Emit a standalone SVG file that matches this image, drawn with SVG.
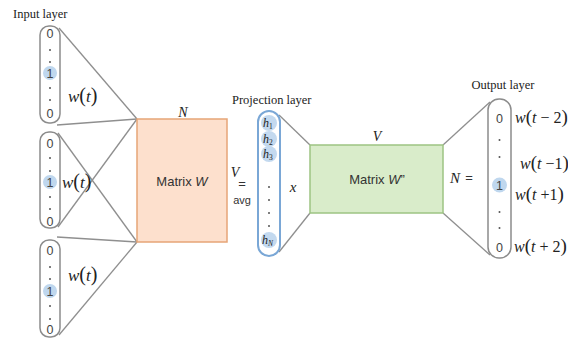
<svg xmlns="http://www.w3.org/2000/svg" width="568" height="341" viewBox="0 0 568 341">
  <style>
    .serif { font-family: "Liberation Serif", "Times New Roman", serif; fill: #222; }
    .math { font-family: "Liberation Serif", "Times New Roman", serif; font-style: italic; fill: #222; }
    .sans { font-family: "Liberation Sans", Arial, sans-serif; fill: #333; }
    .vec { fill: #fff; stroke: #8c8c8c; stroke-width: 1.5; }
    .cell { font-family: "Liberation Sans", Arial, sans-serif; font-size: 12.5px; fill: #444; text-anchor: middle; }
    .hot { fill: #bfd7ee; }
    .dot { fill: #555; }
    .link { stroke: #8f8f8f; stroke-width: 1.3; fill: none; }
    .up { font-style: normal; }
  </style>

  <!-- connectors -->
  <g id="connectors">
    <line class="link" x1="59" y1="28" x2="137" y2="119"/>
    <line class="link" x1="57" y1="125" x2="137" y2="119"/>
    <line class="link" x1="58" y1="133" x2="137" y2="242"/>
    <line class="link" x1="58" y1="227" x2="137" y2="119"/>
    <line class="link" x1="57" y1="237" x2="137" y2="242"/>
    <line class="link" x1="59" y1="335" x2="137" y2="242"/>
    <line class="link" x1="279" y1="115" x2="310" y2="145"/>
    <line class="link" x1="279" y1="252" x2="310" y2="213"/>
    <line class="link" x1="443" y1="145" x2="490" y2="102"/>
    <line class="link" x1="443" y1="213" x2="490" y2="255"/>
  </g>

  <!-- input layer -->
  <text class="serif" x="13" y="18" font-size="12.5">Input layer</text>

  <g id="input1">
    <rect class="vec" x="40" y="26" width="20" height="97" rx="9"/>
    <circle class="hot" cx="50" cy="73" r="7"/>
    <text class="cell" x="50" y="38">0</text>
    <circle class="dot" cx="50" cy="50" r="1"/>
    <circle class="dot" cx="50" cy="62" r="1"/>
    <text class="cell" x="50" y="77.5">1</text>
    <circle class="dot" cx="50" cy="88" r="1"/>
    <circle class="dot" cx="50" cy="100" r="1"/>
    <text class="cell" x="50" y="118">0</text>
    <text class="math" x="68" y="102" font-size="17">w<tspan class="up" font-size="20">(</tspan>t<tspan class="up" font-size="20">)</tspan></text>
  </g>

  <g id="input2">
    <rect class="vec" x="40" y="132" width="20" height="96" rx="9"/>
    <circle class="hot" cx="50" cy="182" r="7"/>
    <text class="cell" x="50" y="148">0</text>
    <circle class="dot" cx="50" cy="158" r="1"/>
    <circle class="dot" cx="50" cy="171" r="1"/>
    <text class="cell" x="50" y="186.5">1</text>
    <circle class="dot" cx="50" cy="197" r="1"/>
    <circle class="dot" cx="50" cy="209" r="1"/>
    <text class="cell" x="50" y="226">0</text>
    <text class="math" x="62" y="188" font-size="17">w<tspan class="up" font-size="20">(</tspan>t<tspan class="up" font-size="20">)</tspan></text>
  </g>

  <g id="input3">
    <rect class="vec" x="40" y="240" width="20" height="97" rx="9"/>
    <circle class="hot" cx="50" cy="291" r="7"/>
    <text class="cell" x="50" y="255">0</text>
    <circle class="dot" cx="50" cy="267" r="1"/>
    <circle class="dot" cx="50" cy="279" r="1"/>
    <text class="cell" x="50" y="295.5">1</text>
    <circle class="dot" cx="50" cy="306" r="1"/>
    <circle class="dot" cx="50" cy="319" r="1"/>
    <text class="cell" x="50" y="334">0</text>
    <text class="math" x="68" y="281" font-size="17">w<tspan class="up" font-size="20">(</tspan>t<tspan class="up" font-size="20">)</tspan></text>
  </g>

  <!-- input weight matrix -->
  <g id="matrixW">
    <rect x="137" y="119" width="90" height="123" fill="#fde0cd" stroke="#e6a577" stroke-width="1.5"/>
    <text class="math" x="183" y="117" font-size="14" text-anchor="middle">N</text>
    <text class="sans" x="182" y="186" font-size="13" text-anchor="middle">Matrix <tspan font-style="italic">W</tspan></text>
    <text class="math" x="235" y="177" font-size="14" text-anchor="middle">V</text>
    <text class="sans" x="242" y="188" font-size="13" text-anchor="middle">=</text>
    <text class="sans" x="242" y="204" font-size="11" text-anchor="middle">avg</text>
  </g>

  <!-- projection layer -->
  <g id="projection">
    <text class="serif" x="232" y="104" font-size="12.5">Projection layer</text>
    <rect x="258" y="111" width="22" height="145" rx="11" fill="#fff" stroke="#7aa7d6" stroke-width="2"/>
    <g fill="#c3d9ef">
      <circle cx="269" cy="123" r="8"/>
      <circle cx="269" cy="139" r="8"/>
      <circle cx="269" cy="154" r="8"/>
      <circle cx="269" cy="240" r="8"/>
    </g>
    <g class="math" font-size="12" fill="#3b4a66">
      <text x="263" y="127">h<tspan font-size="7.5" class="up" dy="2">1</tspan></text>
      <text x="263" y="143">h<tspan font-size="7.5" class="up" dy="2">2</tspan></text>
      <text x="263" y="158">h<tspan font-size="7.5" class="up" dy="2">3</tspan></text>
      <text x="262" y="244">h<tspan font-size="7.5" dy="2">N</tspan></text>
    </g>
    <circle class="dot" cx="269" cy="187" r="1"/>
    <circle class="dot" cx="269" cy="200" r="1"/>
    <circle class="dot" cx="269" cy="213" r="1"/>
    <circle class="dot" cx="269" cy="226" r="1"/>
    <text class="math" x="293" y="192" font-size="15" text-anchor="middle">x</text>
  </g>

  <!-- output weight matrix -->
  <g id="matrixW2">
    <rect x="310" y="145" width="133" height="68" fill="#d9ecca" stroke="#9dc483" stroke-width="1.5"/>
    <text class="math" x="377" y="141" font-size="14" text-anchor="middle">V</text>
    <text class="sans" x="377" y="184" font-size="13" text-anchor="middle">Matrix <tspan font-style="italic">W</tspan>”</text>
    <text class="math" x="455" y="183" font-size="15" text-anchor="middle">N</text>
    <text class="sans" x="469" y="182" font-size="13" text-anchor="middle">=</text>
  </g>

  <!-- output layer -->
  <g id="output">
    <text class="serif" x="503" y="89" font-size="12.5" text-anchor="middle">Output layer</text>
    <rect class="vec" x="488" y="99" width="23" height="159" rx="11"/>
    <circle class="hot" cx="499.5" cy="185" r="7.5"/>
    <text class="cell" x="499.5" y="123" font-size="13">0</text>
    <circle class="dot" cx="499.5" cy="140" r="1"/>
    <circle class="dot" cx="499.5" cy="157" r="1"/>
    <text class="cell" x="499.5" y="190" font-size="13">1</text>
    <circle class="dot" cx="499.5" cy="212" r="1"/>
    <circle class="dot" cx="499.5" cy="228" r="1"/>
    <text class="cell" x="499.5" y="252" font-size="13">0</text>
    <g class="math" font-size="16">
      <text x="515" y="123">w<tspan class="up" font-size="19">(</tspan>t <tspan class="up">− 2</tspan><tspan class="up" font-size="19">)</tspan></text>
      <text x="520" y="169">w<tspan class="up" font-size="19">(</tspan>t <tspan class="up">−1</tspan><tspan class="up" font-size="19">)</tspan></text>
      <text x="515" y="200">w<tspan class="up" font-size="19">(</tspan>t <tspan class="up">+1</tspan><tspan class="up" font-size="19">)</tspan></text>
      <text x="514" y="252">w<tspan class="up" font-size="19">(</tspan>t <tspan class="up">+ 2</tspan><tspan class="up" font-size="19">)</tspan></text>
    </g>
  </g>
</svg>
